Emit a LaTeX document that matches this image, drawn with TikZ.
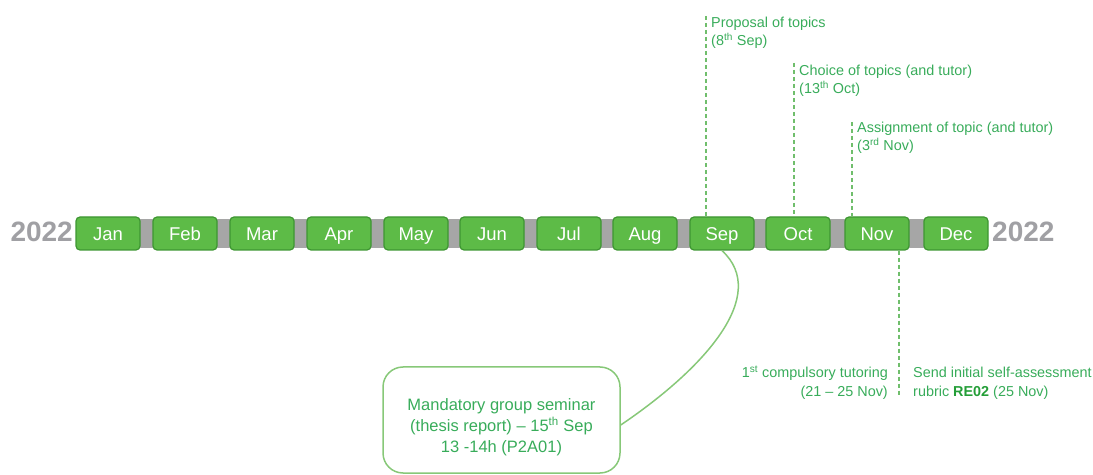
\documentclass[tikz,border=0pt]{standalone}
\usepackage{fontspec}
\setmainfont{Liberation Sans}
\definecolor{boxfill}{RGB}{93,187,71}
\definecolor{boxedge}{RGB}{62,150,50}
\definecolor{bargray}{RGB}{166,166,166}
\definecolor{yeargray}{RGB}{160,160,164}
\definecolor{txtgreen}{RGB}{56,172,90}
\definecolor{dashgreen}{RGB}{112,190,108}
\definecolor{semgreen}{RGB}{135,200,120}
\definecolor{boldgreen}{RGB}{36,158,56}
\begin{document}
\begin{tikzpicture}[x=1bp,y=-1bp,
  month/.style={draw=boxedge, line width=1.2bp, fill=boxfill, rounded corners=4bp,
    minimum width=64bp, minimum height=33bp, inner sep=0pt, text=white,
    font=\fontsize{18.5bp}{20bp}\selectfont, text height=13.2bp, text depth=0pt},
  year/.style={text=yeargray, font=\bfseries\fontsize{28bp}{30bp}\selectfont, inner sep=0pt},
  lab/.style={text=txtgreen, font=\fontsize{14.4bp}{18bp}\selectfont, inner sep=0pt},
  dline/.style={draw=dashgreen, line width=1.3bp, dash pattern=on 4bp off 3bp},
  semline/.style={draw=semgreen, line width=1.5bp}]
\useasboundingbox (0,0) rectangle (1093,475);

% gray bar
\node[fill=bargray, minimum width=912bp, minimum height=29bp, inner sep=0pt] (bar) at (532,233.5) {};

% months
\node[month] (Jan) at (108,233.5) {Jan};
\node[month] (Feb) at (185,233.5) {Feb};
\node[month] (Mar) at (262,233.5) {Mar};
\node[month] (Apr) at (339,233.5) {Apr};
\node[month] (May) at (416,233.5) {May};
\node[month] (Jun) at (492,233.5) {Jun};
\node[month] (Jul) at (569,233.5) {Jul};
\node[month] (Aug) at (645,233.5) {Aug};
\node[month] (Sep) at (722,233.5) {Sep};
\node[month] (Oct) at (798,233.5) {Oct};
\node[month] (Nov) at (877,233.5) {Nov};
\node[month] (Dec) at (956,233.5) {Dec};

% years
\node[year, anchor=base east] (yl) at (73,242) {2022};
\node[year, anchor=base west] (yr) at (992,242) {2022};

% top milestones
\coordinate (tsep) at (706,16);
\coordinate (toct) at (794,63);
\coordinate (tnov) at (852,122);
\draw[dline] (tsep) -- (tsep |- Sep.north);
\draw[dline] (toct) -- (toct |- Oct.north);
\draw[dline] (tnov) -- (tnov |- Nov.north);

\node[lab, anchor=base west] (p1) at (711,28) {Proposal of topics};
\node[lab, anchor=base west] (p2) at (711,46) {(8\textsuperscript{th} Sep)};
\node[lab, anchor=base west] (c1) at (799,76) {Choice of topics (and tutor)};
\node[lab, anchor=base west] (c2) at (799,94) {(13\textsuperscript{th} Oct)};
\node[lab, anchor=base west] (a1) at (857,133) {Assignment of topic (and tutor)};
\node[lab, anchor=base west] (a2) at (857,151) {(3\textsuperscript{rd} Nov)};

% bottom milestones
\coordinate (bnov) at (899,397);
\draw[dline] (bnov |- Nov.south) -- (bnov);
\node[lab, anchor=base east] (t1) at (888,378) {1\textsuperscript{st} compulsory tutoring};
\node[lab, anchor=base east] (t2) at (888,397) {(21 – 25 Nov)};
\node[lab, anchor=base west] (s1) at (913,378) {Send initial self-assessment};
\node[lab, anchor=base west] (s2) at (913,397) {rubric \textcolor{boldgreen}{\bfseries RE02} (25 Nov)};

% seminar box
\node[semline, rounded corners=20bp, minimum width=237bp, minimum height=106bp, inner sep=0pt] (sem) at (501.5,420) {};
\node[lab, font=\fontsize{16.5bp}{21bp}\selectfont, align=center] (semtxt) at (501.5,427)
  {Mandatory group seminar\\(thesis report) – 15\textsuperscript{th} Sep\\13 -14h (P2A01)};
\draw[semline] (Sep.south) .. controls (770,295) and (705,368) .. ([yshift=-5bp]sem.east);
\end{tikzpicture}
\end{document}
